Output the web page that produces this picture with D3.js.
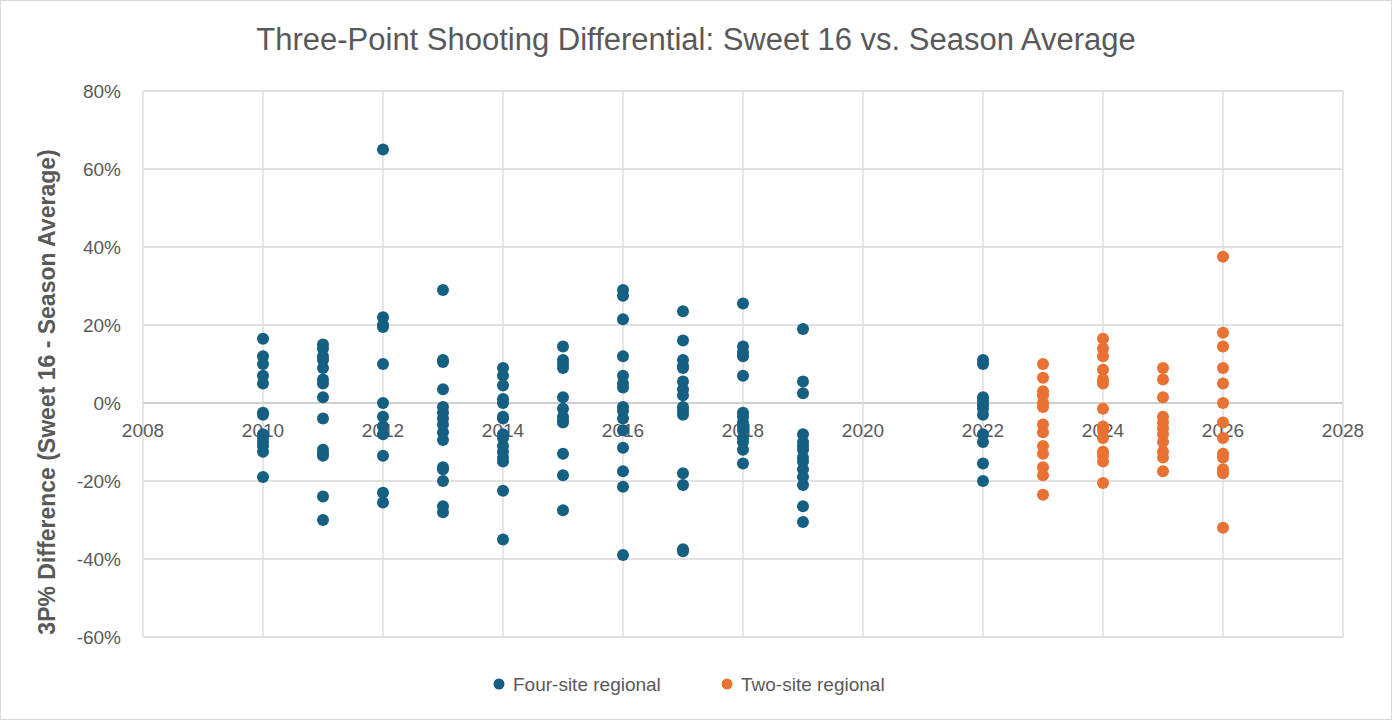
<!DOCTYPE html>
<html><head><meta charset="utf-8">
<script src="https://cdn.jsdelivr.net/npm/d3@7"></script>
<style>body{margin:0;background:#fff}svg{display:block}</style>
</head><body><svg id="chart" width="1392" height="720"></svg>
<script>
// values in %, one array per year
const fourSite = {
  2010: [16.5, 12, 10, 7, 5, -2.5, -3, -8, -9, -10, -11, -12.5, -19],
  2011: [15, 14, 12, 11, 9, 6, 5, 1.5, -4, -12, -13, -13.5, -24, -30],
  2012: [65, 22, 20, 19.5, 10, 0, -3.5, -6, -8, -13.5, -23, -25.5],
  2013: [29, 11, 10.5, 3.5, -1, -2.5, -4, -5.5, -7.5, -9.5, -16.5, -17, -20, -26.5, -28],
  2014: [9, 7, 4.5, 1, 0, -3.5, -4, -8, -9, -11, -12.5, -14, -15, -22.5, -35],
  2015: [14.5, 11, 10, 9, 1.5, -1.5, -3.5, -4.5, -5, -13, -18.5, -27.5],
  2016: [29, 27.5, 21.5, 12, 7, 5, 4, -1, -2, -4, -7, -11.5, -17.5, -21.5, -39],
  2017: [23.5, 16, 11, 9.5, 9, 5.5, 3.5, 2, -1, -2, -3, -18, -21, -37.5, -38],
  2018: [25.5, 14.5, 13, 12, 7, -2.5, -3.5, -5, -6, -7, -9, -10, -12, -15.5],
  2019: [19, 5.5, 2.5, -8, -10, -11, -12, -14, -15, -17, -19, -21, -26.5, -30.5],
  2022: [11, 10, 1.5, 0.5, -0.5, -1.5, -3, -8, -10, -15.5, -20]
};
const twoSite = {
  2023: [10, 6.5, 3, 2, 0, -1, -5.5, -7.5, -11, -13, -16.5, -18.5, -23.5],
  2024: [16.5, 14, 12, 8.5, 6, 5, -1.5, -6, -7, -9, -12.5, -13.5, -15, -20.5],
  2025: [9, 6, 1.5, -3.5, -5, -6.5, -8, -10, -12.5, -14, -17.5],
  2026: [37.5, 18, 14.5, 9, 5, 0, -5, -9, -13, -14, -17, -18, -32]
};
const xTicks = d3.range(2008, 2029, 2);
const yTicks = d3.range(-60, 81, 20);
const series = [
  {name: "Four-site regional", color: "#156082", data: fourSite},
  {name: "Two-site regional", color: "#E97132", data: twoSite}
];

const svg = d3.select("#chart");
svg.append("rect").attr("x", 0.5).attr("y", 0.5).attr("width", 1391).attr("height", 719)
  .attr("fill", "#fff").attr("stroke", "#d9d9d9");

const x = d3.scaleLinear().domain([2008, 2028]).range([143, 1343]);
const y = d3.scaleLinear().domain([-60, 80]).range([637, 91]);
const font = "'Liberation Sans', Arial, sans-serif";

svg.append("g").selectAll("line").data(yTicks).join("line")
  .attr("x1", 143).attr("x2", 1343).attr("y1", d => y(d)).attr("y2", d => y(d))
  .attr("stroke", d => d === 0 ? "#bfbfbf" : "#d9d9d9").attr("stroke-width", 1.3);
svg.append("g").selectAll("line").data(xTicks).join("line")
  .attr("y1", 91).attr("y2", 637).attr("x1", d => x(d)).attr("x2", d => x(d))
  .attr("stroke", "#d9d9d9").attr("stroke-width", 1.3);

svg.append("g").selectAll("text").data(yTicks).join("text")
  .attr("x", 121).attr("y", d => y(d)).attr("dy", "0.35em").attr("text-anchor", "end")
  .attr("fill", "#595959").style("font", `19px ${font}`).text(d => d + "%");
svg.append("g").selectAll("text").data(xTicks).join("text")
  .attr("x", d => x(d)).attr("y", y(0) + 34).attr("text-anchor", "middle")
  .attr("fill", "#595959").style("font", `19px ${font}`).text(d => d);

series.forEach(s => {
  const pts = Object.entries(s.data).flatMap(([yr, vals]) => vals.map(v => [+yr, v]));
  svg.append("g").selectAll("circle").data(pts).join("circle")
    .attr("cx", d => x(d[0])).attr("cy", d => y(d[1])).attr("r", 6)
    .attr("fill", s.color);
});

svg.append("text").attr("x", 696).attr("y", 50).attr("text-anchor", "middle")
  .attr("fill", "#595959").style("font", `31px ${font}`)
  .text("Three-Point Shooting Differential: Sweet 16 vs. Season Average");

svg.append("text").attr("transform", `translate(55,${(91 + 637) / 2 + 28}) rotate(-90)`)
  .attr("text-anchor", "middle").attr("fill", "#595959")
  .style("font", `bold 23px ${font}`).text("3P% Difference (Sweet 16 - Season Average)");

const leg = svg.append("g").selectAll("g").data(series).join("g")
  .attr("transform", (d, i) => `translate(${[499, 727][i]},684)`);
leg.append("circle").attr("r", 5.5).attr("fill", d => d.color);
leg.append("text").attr("x", 14).attr("dy", "0.35em").attr("fill", "#595959")
  .style("font", `19px ${font}`).text(d => d.name);
</script></body></html>
